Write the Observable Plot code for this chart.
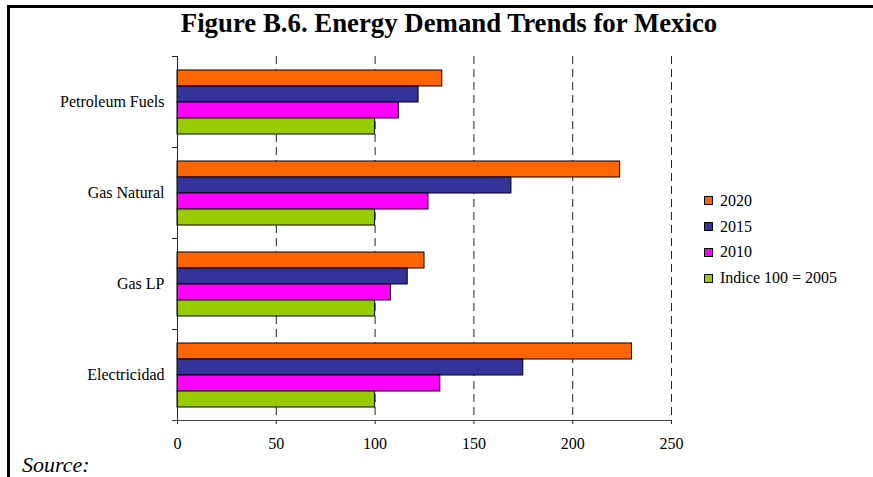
<!DOCTYPE html>
<html>
<head>
<meta charset="utf-8">
<script src="https://cdn.jsdelivr.net/npm/d3@7"></script>
<script src="https://cdn.jsdelivr.net/npm/@observablehq/plot@0.6"></script>
<style>
  html, body { margin: 0; padding: 0; background: #fff; }
  #wrap { position: relative; width: 873px; height: 477px; overflow: hidden; font-family: "Liberation Serif", "Times New Roman", serif; color: #000; }
  #border { position: absolute; left: 7px; top: 5px; width: 900px; height: 500px; border-top: 3px solid #000; border-left: 3px solid #000; box-sizing: border-box; }
  #title { position: absolute; top: 10px; left: 449px; transform: translateX(-50%); white-space: nowrap; font-size: 26.8px; line-height: 26px; font-weight: bold; }
  #source { position: absolute; left: 22px; top: 456px; font-size: 22px; line-height: 18px; font-style: italic; }
  #legend { position: absolute; left: 704px; top: 0; }
  .row { position: absolute; left: 0; height: 16px; display: flex; align-items: center; white-space: nowrap; font-size: 16px; line-height: 16px; }
  .sw { width: 7px; height: 7px; border: 1px solid #000; margin-right: 7px; }
  #chart { position: absolute; left: 0; top: 0; }
</style>
</head>
<body>
<div id="wrap">
  <div id="chart"></div>
  <div id="border"></div>
  <div id="title">Figure B.6. Energy Demand Trends for Mexico</div>
  <div id="legend"></div>
  <div id="source">Source:</div>
</div>
<script>
const categories = ["Petroleum Fuels", "Gas Natural", "Gas LP", "Electricidad"];
const series = ["2020", "2015", "2010", "Indice 100 = 2005"];
const values2020 = [134, 224, 125, 230];
const values2015 = [122, 169, 116.5, 175];
const values2010 = [112, 127, 108, 133];
const values2005 = [100, 100, 100, 100];
const colors = ["#FF6600", "#333399", "#FF00FF", "#99CC00"];
const xTicks = [0, 50, 100, 150, 200, 250];
const gridTicks = [50, 100, 150, 200, 250];

const seriesValues = [values2020, values2015, values2010, values2005];
const table = [];
categories.forEach((c, i) => {
  series.forEach((s, j) => {
    table.push({cat: c, series: s, value: seriesValues[j][i]});
  });
});

const W = 873, H = 477;
const mL = 177, mR = 202, mT = 55, mB = 56;
const plotW = W - mL - mR;

const chart = Plot.plot({
  width: W,
  height: H,
  marginLeft: mL,
  marginRight: mR,
  marginTop: mT,
  marginBottom: mB,
  style: {fontFamily: "'Liberation Serif', 'Times New Roman', serif", fontSize: "16px", color: "#000", background: "transparent"},
  x: {domain: [0, 250]},
  y: {domain: series, paddingInner: 0, paddingOuter: 0.756, axis: null},
  fy: {domain: categories, padding: 0},
  color: {domain: series, range: colors},
  marks: [
    Plot.ruleX(gridTicks, {stroke: "#222", strokeWidth: 1, strokeDasharray: "8,5"}),
    Plot.barX(table, {x: "value", y: "series", fy: "cat", fill: "series", stroke: "#000", strokeWidth: 1}),
    Plot.ruleX([0], {stroke: "#222", strokeWidth: 1}),
    Plot.frame({anchor: "top", insetLeft: -5, insetRight: plotW, stroke: "#222"}),
    Plot.frame({anchor: "bottom", fy: "Electricidad", insetLeft: -5, stroke: "#444"}),
    Plot.axisX({ticks: xTicks, tickSize: 4, tickPadding: 13.5, label: null, fontSize: 16, stroke: "#222"}),
    Plot.axisFy({anchor: "left", tickSize: 0, tickPadding: 13, label: null, fontSize: 16})
  ]
});
document.getElementById("chart").appendChild(chart);

const rowCenters = [200.7, 226.6, 252.4, 278.3];
const legend = document.getElementById("legend");
series.forEach((s, j) => {
  const row = document.createElement("div");
  row.className = "row";
  row.style.top = (rowCenters[j] - 8) + "px";
  const sw = document.createElement("div");
  sw.className = "sw";
  sw.style.background = colors[j];
  const t = document.createElement("span");
  t.textContent = s;
  row.appendChild(sw);
  row.appendChild(t);
  legend.appendChild(row);
});
</script>
</body>
</html>
